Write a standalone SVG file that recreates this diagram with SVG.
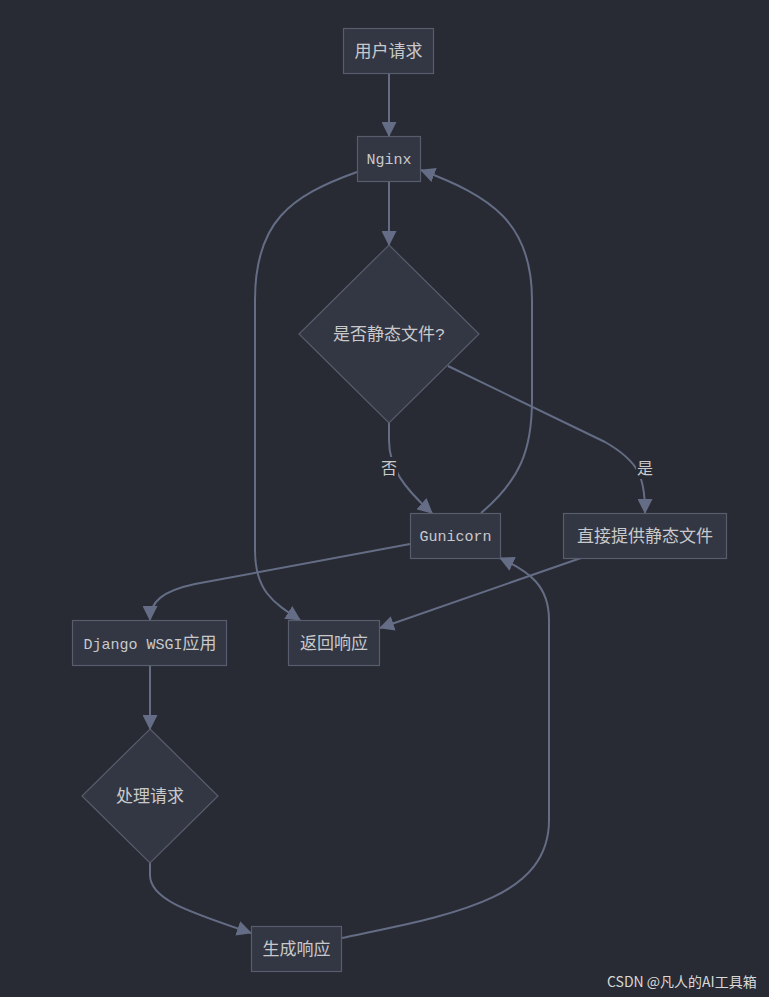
<svg xmlns="http://www.w3.org/2000/svg" width="769" height="997" viewBox="0 0 769 997">
<style>
.bg{fill:#282b33}
.node rect,.node polygon{fill:#333743;stroke:#585d6d;stroke-width:1.2}
.lbl{fill:#c9c9cc;font-family:"Liberation Mono","Noto Sans CJK SC",monospace;font-size:17px;text-anchor:middle}
.lat{font-size:15px}
.edge{fill:none;stroke:#646d85;stroke-width:2}
.elbg{fill:#282b33}
.elt{fill:#c9c9cc;font-family:"Noto Sans CJK SC",sans-serif;font-size:16px;text-anchor:middle}
.wm{fill:#d8d8d8;font-family:"Noto Sans CJK SC",sans-serif;font-size:14px}
</style>
<defs>
<marker id="arr" markerUnits="userSpaceOnUse" markerWidth="15" markerHeight="15" refX="14" refY="7.5" orient="auto">
<path d="M0,0 L15,7.5 L0,15 z" fill="#646d85"/>
</marker>
</defs>
<rect class="bg" x="0" y="0" width="769" height="997"/>
<g id="connectors">
<path class="edge" d="M389,73 L389,136" marker-end="url(#arr)"/>
<path class="edge" d="M389,181 L389,245" marker-end="url(#arr)"/>
<path class="edge" d="M389,423 L389,440 C389,468 404,488 432,513" marker-end="url(#arr)"/>
<path class="edge" d="M448,366 L605,442 C640,462 645,478 645,513" marker-end="url(#arr)"/>
<path class="edge" d="M481,513 C520,480 532,450 532,400 L532,300 C532,222 490,196 421,170" marker-end="url(#arr)"/>
<path class="edge" d="M357,172 C290,196 255,222 255,300 L255,550 C255,590 272,602 300,620" marker-end="url(#arr)"/>
<path class="edge" d="M581,558 L380,628" marker-end="url(#arr)"/>
<path class="edge" d="M410,544 L195,584 C162,591 150,602 150,620" marker-end="url(#arr)"/>
<path class="edge" d="M150,665 L150,729" marker-end="url(#arr)"/>
<path class="edge" d="M150,863 L150,875 C150,900 190,912 251,933" marker-end="url(#arr)"/>
<path class="edge" d="M342,938 C450,915 549,900 549,820 L549,620 C549,586 530,572 500,558" marker-end="url(#arr)"/>
<g id="edge-labels">
<rect class="elbg" x="380" y="457" width="18" height="22"/>
<text class="elt" x="389" y="474">否</text>
<rect class="elbg" x="636" y="457" width="18" height="22"/>
<text class="elt" x="645" y="474">是</text>
</g>
</g>
<g id="n-user" class="node">
<rect x="343.5" y="28.5" width="90" height="45"/>
<text class="lbl" x="388.5" y="57">用户请求</text>
</g>
<g id="n-nginx" class="node">
<rect x="357.5" y="136.5" width="63" height="45"/>
<text class="lbl lat" x="389" y="164">Nginx</text>
</g>
<g id="n-static" class="node">
<polygon points="389,245 479,334 389,423 299,334"/>
<text class="lbl" x="389" y="340">是否静态文件?</text>
</g>
<g id="n-gunicorn" class="node">
<rect x="410.5" y="513.5" width="90" height="45"/>
<text class="lbl lat" x="455.5" y="541">Gunicorn</text>
</g>
<g id="n-serve" class="node">
<rect x="563.5" y="513.5" width="163" height="45"/>
<text class="lbl" x="645" y="542">直接提供静态文件</text>
</g>
<g id="n-django" class="node">
<rect x="72.5" y="620.5" width="154" height="45"/>
<text class="lbl" x="150" y="649"><tspan class="lat">Django WSGI</tspan>应用</text>
</g>
<g id="n-return" class="node">
<rect x="288.5" y="620.5" width="91" height="45"/>
<text class="lbl" x="334" y="649">返回响应</text>
</g>
<g id="n-process" class="node">
<polygon points="150,729 218,796 150,863 82,796"/>
<text class="lbl" x="150" y="802">处理请求</text>
</g>
<g id="n-gen" class="node">
<rect x="251.5" y="926.5" width="90" height="45"/>
<text class="lbl" x="296.5" y="955">生成响应</text>
</g>
<text class="wm" x="607" y="987">CSDN @凡人的AI工具箱</text>
</svg>
